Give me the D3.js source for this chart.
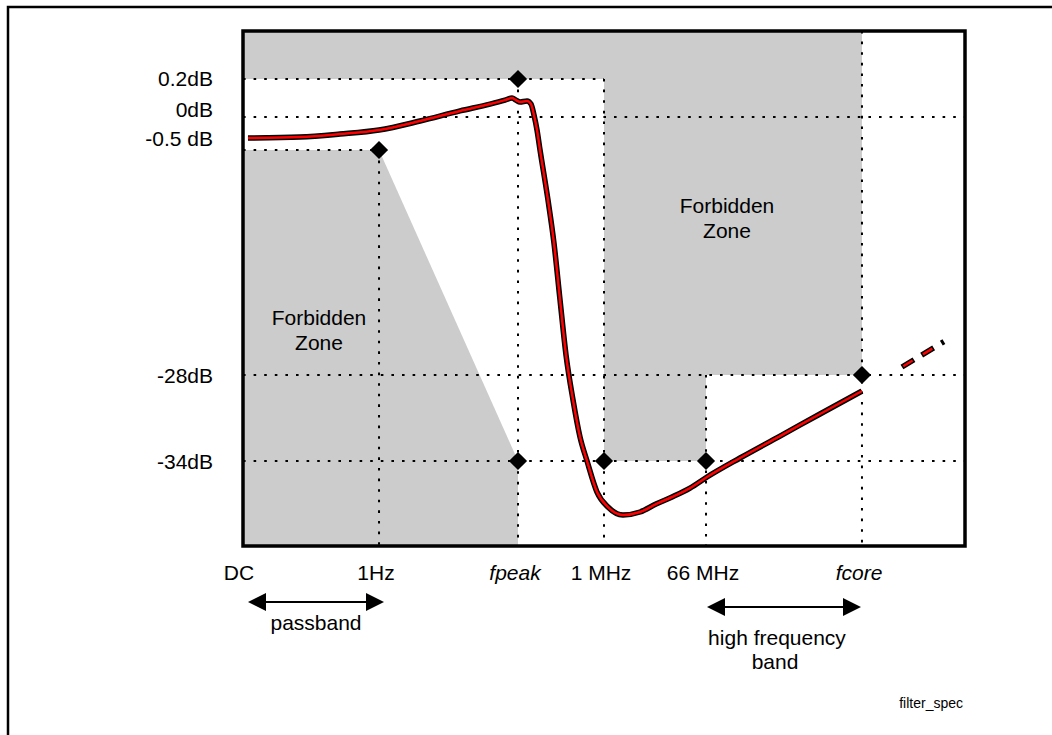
<!DOCTYPE html>
<html>
<head>
<meta charset="utf-8">
<script src="https://cdn.jsdelivr.net/npm/d3@7"></script>
<style>
  html, body { margin: 0; padding: 0; background: #fff; }
  svg { display: block; font-family: "Liberation Sans", Arial, sans-serif; }
</style>
</head>
<body>
<svg id="chart" width="1052" height="735"></svg>
<script>
// ---------------- data ----------------
const xTickLabels = ["DC", "1Hz", "fpeak", "1 MHz", "66 MHz", "fcore"];
const xTickValues = [0, 18.84, 38.09, 50, 64.13, 85.73];
const xTickItalic = [false, false, true, false, false, true];

const yTickLabels = ["0.2dB", "0dB", "-0.5 dB", "-28dB", "-34dB"];
const yTickValues = [0.2, 0, -0.5, -28, -34];

const curveX  = [0.69, 7.89, 13.43, 18.84, 24.52, 30.06, 34.21, 36.29, 37.26, 37.81, 38.37, 39.34, 39.89, 40.30, 40.72, 41.14, 42.24, 43.07, 43.91, 44.74, 45.71, 46.68, 47.65, 49.03, 50.55, 52.63, 54.99, 57.20, 59.42, 61.91, 64.27, 68.84, 74.38, 79.92, 85.73];
const curveDb = [-0.318, -0.303, -0.258, -0.197, -0.061, 0.032, 0.068, 0.089, 0.100, 0.089, 0.079, 0.084, 0.068, 0.011, -0.197, -0.5, -6.61, -11.87, -18.83, -25.56, -29.74, -32.33, -34, -36.19, -37.25, -37.81, -37.60, -37.04, -36.54, -35.91, -35.13, -33.79, -32.26, -30.72, -29.12];

const extX  = [91.27, 97.23];
const extDb = [-27.02, -23.84];

const markerX  = [18.84, 38.09, 38.09, 50, 64.13, 85.73];
const markerDb = [-0.5, 0.2, -34, -34, -34, -28];

// forbidden zones (x units, dB)
const zoneTopX  = [0, 85.73, 85.73, 64.13, 64.13, 50, 50, 0];
const zoneTopDb = [0.45, 0.45, -28, -28, -34, -34, 0.2, 0.2];
const zoneLeftX  = [0, 18.84, 38.09, 38.09, 0];
const zoneLeftDb = [-0.5, -0.5, -34, -40, -40];

// grid lines: horizontal [x0, x1, dB]; vertical [x, dB0 -> bottom]
const hGridX0 = [0, 0, 0, 0, 0];
const hGridX1 = [50, 100, 18.84, 100, 100];
const hGridDb = [0.2, 0, -0.5, -28, -34];
const vGridX   = [18.84, 38.09, 50, 64.13, 85.73];
const vGridDb0 = [-0.5, 0.2, 0.2, -28, 0.45];

// ---------------- layout ----------------
const svg = d3.select("#chart");
const L = 243, T = 31, W = 722, H = 515;
const x = d3.scaleLinear().domain([0, 100]).range([L, L + W]);
const yDomain = [-40, -34, -28, -0.5, 0, 0.2, 0.45];
const yFrac = [1, 0.835, 0.668, 0.231, 0.167, 0.0932, 0];
const y = d3.scaleLinear().domain(yDomain).range(yFrac.map(f => T + f * H));

// outer frame
svg.append("path")
  .attr("d", `M8,${740} L8,7 L1060,7`)
  .attr("fill", "none").attr("stroke", "#000").attr("stroke-width", 2.5);

// gray zones
const poly = (xs, ds) => xs.map((v, i) => [x(v), y(ds[i])]);
svg.append("polygon").attr("points", poly(zoneTopX, zoneTopDb).join(" ")).attr("fill", "#cccccc");
svg.append("polygon").attr("points", poly(zoneLeftX, zoneLeftDb).join(" ")).attr("fill", "#cccccc");

// dotted grid
const dot = "2.6,8";
hGridDb.forEach((d, i) => {
  svg.append("line")
    .attr("x1", x(hGridX0[i])).attr("x2", x(hGridX1[i]))
    .attr("y1", y(d)).attr("y2", y(d))
    .attr("stroke", "#000").attr("stroke-width", 2).attr("stroke-dasharray", dot);
});
vGridX.forEach((v, i) => {
  svg.append("line")
    .attr("x1", x(v)).attr("x2", x(v))
    .attr("y1", y(vGridDb0[i])).attr("y2", y(-40))
    .attr("stroke", "#000").attr("stroke-width", 2).attr("stroke-dasharray", dot);
});

// plot border
svg.append("rect").attr("x", L).attr("y", T).attr("width", W).attr("height", H)
  .attr("fill", "none").attr("stroke", "#000").attr("stroke-width", 3.5);

// response curve
const line = d3.line().x(d => x(d[0])).y(d => y(d[1])).curve(d3.curveMonotoneX);
const curveData = curveX.map((v, i) => [v, curveDb[i]]);
svg.append("path").attr("d", line(curveData)).attr("fill", "none")
  .attr("stroke", "#000").attr("stroke-width", 5.5).attr("stroke-linejoin", "round");
svg.append("path").attr("d", line(curveData)).attr("fill", "none")
  .attr("stroke", "#ff0000").attr("stroke-width", 2.5).attr("stroke-linejoin", "round");

// dashed extension
const extData = extX.map((v, i) => [v, extDb[i]]);
const lineStraight = d3.line().x(d => x(d[0])).y(d => y(d[1]));
svg.append("path").attr("d", lineStraight(extData)).attr("fill", "none")
  .attr("stroke", "#000").attr("stroke-width", 5.5).attr("stroke-dasharray", "14,9,14,9,3,20");
svg.append("path").attr("d", lineStraight(extData)).attr("fill", "none")
  .attr("stroke", "#ff0000").attr("stroke-width", 2.5)
  .attr("stroke-dasharray", "0,1.5,11,12,11,12,0,30");

// diamonds
const sym = d3.symbol().type(d3.symbolSquare).size(165);
markerX.forEach((v, i) => {
  svg.append("path").attr("d", sym())
    .attr("transform", `translate(${x(v)},${y(markerDb[i])}) rotate(45)`)
    .attr("fill", "#000");
});

// y labels
const yLabelShift = [0, -8, -11.5, 0, 0];
yTickLabels.forEach((t, i) => {
  svg.append("text").text(t)
    .attr("x", 213).attr("y", y(yTickValues[i]) + yLabelShift[i] + 7.5)
    .attr("text-anchor", "end").attr("font-size", 21).attr("fill", "#000");
});

// x labels
xTickLabels.forEach((t, i) => {
  svg.append("text").text(t)
    .attr("x", x(xTickValues[i]) + (i === 0 ? -4 : -3)).attr("y", 580)
    .attr("text-anchor", "middle").attr("font-size", 21).attr("fill", "#000")
    .attr("font-style", xTickItalic[i] ? "italic" : "normal");
});

// two-line labels
function twoLine(cx, by, a, b, gap, dx2) {
  svg.append("text").text(a).attr("x", cx).attr("y", by)
    .attr("text-anchor", "middle").attr("font-size", 21).attr("fill", "#000");
  svg.append("text").text(b).attr("x", cx + (dx2 || 0)).attr("y", by + gap)
    .attr("text-anchor", "middle").attr("font-size", 21).attr("fill", "#000");
}
twoLine(319, 325, "Forbidden", "Zone", 25);
twoLine(727, 213, "Forbidden", "Zone", 25);

// arrows
function dblArrow(x1, x2, yy) {
  const hl = 18, hh = 9;
  svg.append("line").attr("x1", x1 + hl - 2).attr("x2", x2 - hl + 2)
    .attr("y1", yy).attr("y2", yy).attr("stroke", "#000").attr("stroke-width", 2);
  svg.append("polygon").attr("points", `${x1},${yy} ${x1 + hl},${yy - hh} ${x1 + hl},${yy + hh}`).attr("fill", "#000");
  svg.append("polygon").attr("points", `${x2},${yy} ${x2 - hl},${yy - hh} ${x2 - hl},${yy + hh}`).attr("fill", "#000");
}
dblArrow(x(xTickValues[0]) + 5, x(xTickValues[1]) + 5, 602);
dblArrow(x(xTickValues[4]) + 1, x(xTickValues[5]) - 1, 607);

svg.append("text").text("passband").attr("x", 316).attr("y", 630)
  .attr("text-anchor", "middle").attr("font-size", 21).attr("fill", "#000");
twoLine(777, 645, "high frequency", "band", 24, -2);

svg.append("text").text("filter_spec").attr("x", 963).attr("y", 708)
  .attr("text-anchor", "end").attr("font-size", 14).attr("fill", "#000");
</script>
</body>
</html>
